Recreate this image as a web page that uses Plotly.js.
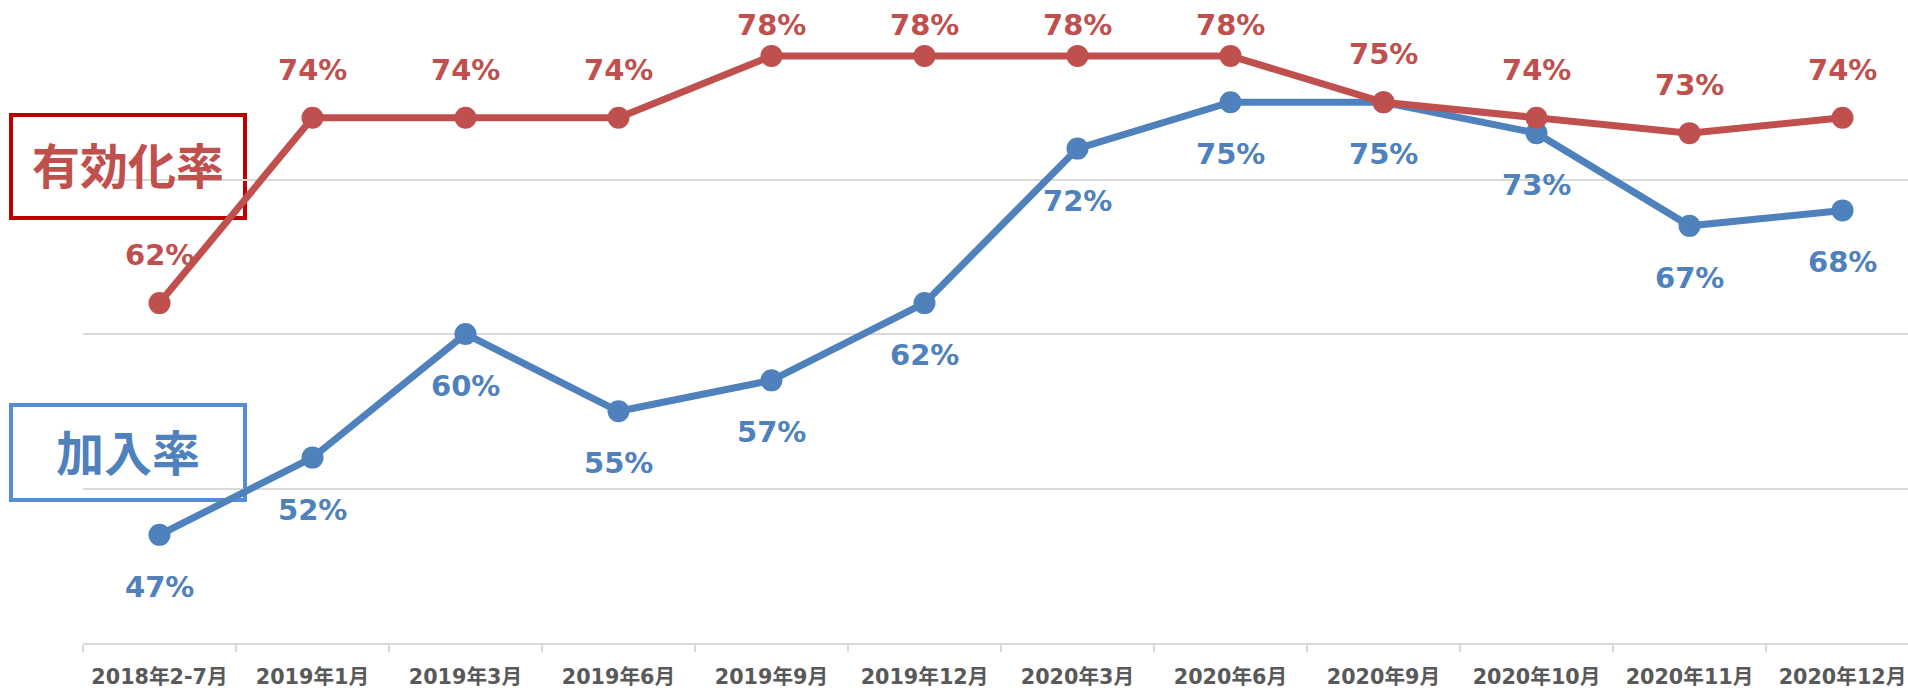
<!DOCTYPE html>
<html>
<head>
<meta charset="utf-8">
<script src="https://cdn.plot.ly/plotly-3.0.1.min.js"></script>
<style>html,body{margin:0;padding:0;background:#fff;}#chart{width:1908px;height:688px;}</style>
</head>
<body>
<div id="chart"></div>
<script>
var categories = ["2018年2-7月","2019年1月","2019年3月","2019年6月","2019年9月","2019年12月","2020年3月","2020年6月","2020年9月","2020年10月","2020年11月","2020年12月"];
var kanyuRate = [47, 52, 60, 55, 57, 62, 72, 75, 75, 73, 67, 68];
var yukoRate = [62, 74, 74, 74, 78, 78, 78, 78, 75, 74, 73, 74];
var seriesNames = ["加入率", "有効化率"];

var W = 1908, H = 688;
var mL = 83, mR = 0, mT = 25, mB = 45;
var plotW = W - mL - mR, plotH = H - mT - mB;
var yMin = 40, yMax = 80;
var pxPerUnit = plotH / (yMax - yMin);
var catSpacing = 153;
var xMax = -0.5 + plotW / catSpacing;

var RED = "#C0504D", BLUE = "#4F81BD";

var traces = [
  {x: categories, y: kanyuRate, name: seriesNames[0], type: "scatter", mode: "lines+markers",
   line: {color: BLUE, width: 7}, marker: {color: BLUE, size: 22}, cliponaxis: false, hoverinfo: "skip"},
  {x: categories, y: yukoRate, name: seriesNames[1], type: "scatter", mode: "lines+markers",
   line: {color: RED, width: 7}, marker: {color: RED, size: 22}, cliponaxis: false, hoverinfo: "skip"}
];

var annotations = [];
var labelFont = {family: "DejaVu Sans, Verdana, sans-serif", size: 29, weight: "bold"};
function markerPx(v){ return mT + (yMax - v) * pxPerUnit; }
yukoRate.forEach(function(v, i){
  var mp = markerPx(v);
  var lp = Math.max(mp - 48, 25);
  annotations.push({x: categories[i], y: v, xref: "x", yref: "y", text: v + "%", showarrow: false,
    yshift: mp - lp, xanchor: "center", yanchor: "middle", font: Object.assign({color: RED}, labelFont)});
});
kanyuRate.forEach(function(v, i){
  annotations.push({x: categories[i], y: v, xref: "x", yref: "y", text: v + "%", showarrow: false,
    yshift: -52, xanchor: "center", yanchor: "middle", font: Object.assign({color: BLUE}, labelFont)});
});

function px2x(p){ return (p - mL) / plotW; }
function py2y(p){ return (H - mB - p) / plotH; }

var boxes = [
  {x0: 11, x1: 245, y0: 115, y1: 218, color: "#C00000", text: seriesNames[1], textColor: RED},
  {x0: 11, x1: 245, y0: 405, y1: 500, color: "#558ED5", text: seriesNames[0], textColor: BLUE}
];
var shapes = boxes.map(function(b){
  return {type: "rect", xref: "paper", yref: "paper", layer: "between",
    x0: px2x(b.x0), x1: px2x(b.x1), y0: py2y(b.y1), y1: py2y(b.y0),
    line: {color: b.color, width: 4}, fillcolor: "#FFFFFF"};
});
boxes.forEach(function(b){
  annotations.push({xref: "paper", yref: "paper", x: px2x((b.x0 + b.x1) / 2), y: py2y((b.y0 + b.y1) / 2 - 3),
    text: b.text, showarrow: false, xanchor: "center", yanchor: "middle",
    font: {family: "Noto Sans CJK JP, sans-serif", size: 48, weight: "bold", color: b.textColor}});
});

var layout = {
  width: W, height: H,
  margin: {l: mL, r: mR, t: mT, b: mB, pad: 0},
  paper_bgcolor: "#FFFFFF", plot_bgcolor: "#FFFFFF",
  showlegend: false,
  xaxis: {type: "category", range: [-0.5, xMax], showgrid: false, zeroline: false,
    showline: true, linecolor: "#D9D9D9", linewidth: 2,
    ticks: "outside", tickson: "boundaries", ticklen: 7, tickcolor: "#D9D9D9", tickwidth: 2,
    ticklabelstandoff: 14,
    tickfont: {family: "DejaVu Sans, Noto Sans CJK JP, sans-serif", size: 20.7, weight: "bold", color: "#595959"}},
  yaxis: {range: [yMin, yMax], dtick: 10, showgrid: true, gridcolor: "#D9D9D9", gridwidth: 2,
    zeroline: false, showticklabels: false, ticks: "", showline: false, fixedrange: true},
  shapes: shapes,
  annotations: annotations
};

Plotly.newPlot("chart", traces, layout, {staticPlot: true, displayModeBar: false});
</script>
</body>
</html>
